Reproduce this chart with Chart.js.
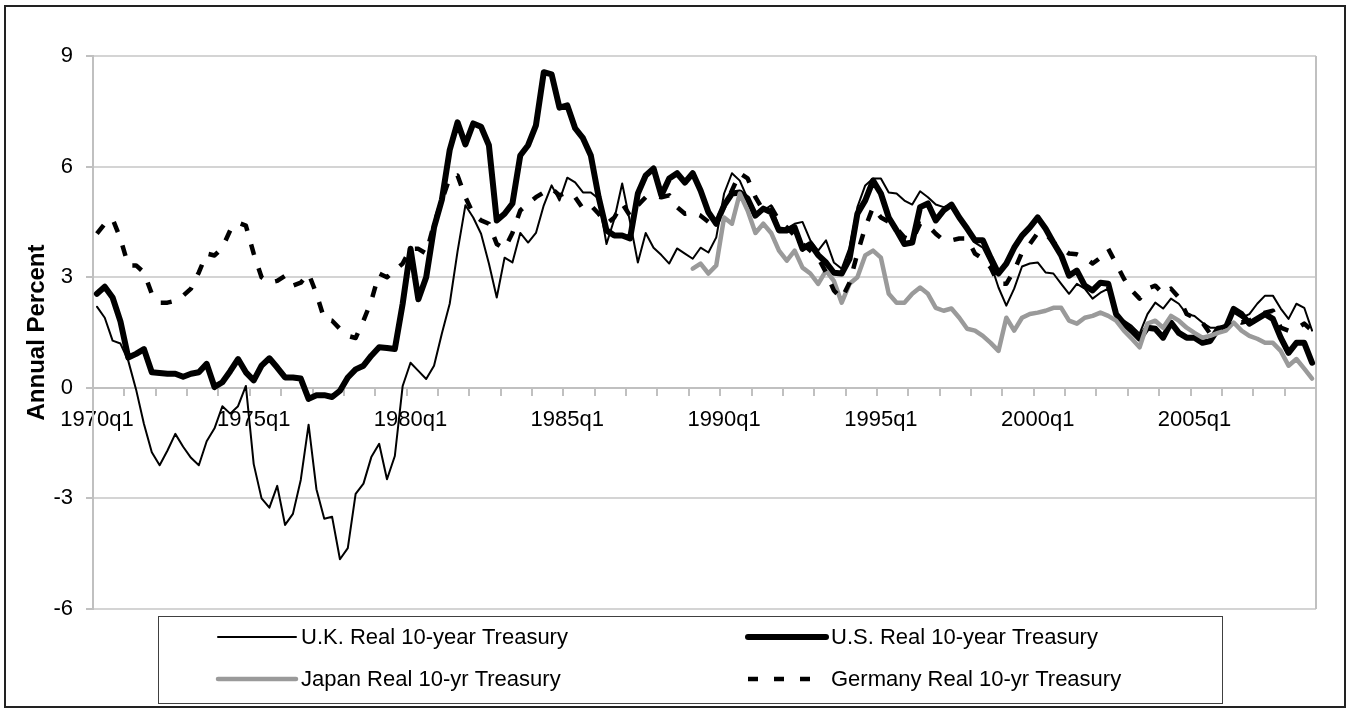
<!DOCTYPE html>
<html>
<head>
<meta charset="utf-8">
<title>Real 10-year Treasury yields</title>
<script src="https://cdn.jsdelivr.net/npm/chart.js@4.4.1/dist/chart.umd.min.js"></script>
<style>
  html, body { margin: 0; padding: 0; background: #fff; }
  #wrap { position: relative; width: 1349px; height: 710px; }
</style>
</head>
<body>
<div id="wrap"><canvas id="real-rates"></canvas></div>
<script>
// quarterly categories 1970q1 .. 2008q4
const firstYear = 1970;
const lastYear = 2008;
const quarters = [];
for (let y = firstYear; y <= lastYear; y++) {
    for (let q = 1; q <= 4; q++) quarters.push(y + 'q' + q);
}
const shownTicks = ['1970q1','1975q1','1980q1','1985q1','1990q1','1995q1','2000q1','2005q1'];
const yTicks = [-6, -3, 0, 3, 6, 9];

// values, one row per year (q1..q4)
const ukReal = [
    2.2, 1.9, 1.28, 1.2,      0.73, -0.05, -0.98, -1.75,
    -2.1, -1.7, -1.25, -1.6,  -1.9, -2.1, -1.45, -1.1,
    -0.5, -0.7, -0.5, 0.05,   -2.07, -3.0, -3.25, -2.66,
    -3.72, -3.42, -2.5, -1.0, -2.75, -3.55, -3.5, -4.65,
    -4.35, -2.88, -2.6, -1.88, -1.52, -2.48, -1.85, 0.05,
    0.68, 0.46, 0.24, 0.6,    1.47, 2.28, 3.7, 4.95,
    4.62, 4.18, 3.37, 2.45,   3.53, 3.4, 4.2, 3.94,
    4.2, 4.95, 5.49, 5.08,    5.7, 5.57, 5.3, 5.3,
    5.13, 3.9, 4.58, 5.54,    4.5, 3.4, 4.2, 3.8,
    3.6, 3.37, 3.78, 3.64,    3.5, 3.8, 3.67, 4.08,
    5.27, 5.82, 5.62, 5.13,   4.72, 4.81, 4.95, 4.35,
    4.32, 4.45, 4.5, 4.0,     3.72, 4.0, 3.4, 3.23,
    3.8, 4.9, 5.49, 5.68,     5.68, 5.3, 5.27, 5.08,
    4.97, 5.33, 5.17, 4.97,   4.9, 4.97, 4.67, 4.27,
    3.94, 3.8, 3.37, 2.72,    2.23, 2.69, 3.29, 3.37,
    3.4, 3.13, 3.1, 2.82,     2.55, 2.82, 2.69, 2.42,
    2.58, 2.69, 2.0, 1.82,    1.68, 1.47, 2.0, 2.31,
    2.15, 2.42, 2.28, 2.0,    1.95, 1.77, 1.63, 1.63,
    1.68, 2.04, 1.9, 2.0,     2.28, 2.5, 2.5, 2.15,
    1.87, 2.28, 2.17, 1.55
];

const usReal = [
    2.55, 2.74, 2.45, 1.8,    0.82, 0.92, 1.05, 0.42,
    0.4, 0.38, 0.38, 0.3,     0.38, 0.42, 0.65, 0.02,
    0.15, 0.45, 0.78, 0.42,   0.2, 0.6, 0.8, 0.55,
    0.28, 0.28, 0.25, -0.3,   -0.2, -0.2, -0.25, -0.08,
    0.28, 0.5, 0.6, 0.87,     1.1, 1.08, 1.05, 2.28,
    3.77, 2.4, 3.0, 4.35,     5.1, 6.45, 7.2, 6.6,
    7.17, 7.08, 6.58, 4.54,   4.72, 5.0, 6.3, 6.58,
    7.12, 8.56, 8.5, 7.6,     7.66, 7.04, 6.77, 6.3,
    5.17, 4.27, 4.13, 4.13,   4.05, 5.27, 5.76, 5.95,
    5.22, 5.68, 5.82, 5.57,   5.82, 5.35, 4.76, 4.45,
    4.95, 5.27, 5.3, 5.13,    4.67, 4.86, 4.76, 4.27,
    4.27, 4.35, 3.77, 3.9,    3.6, 3.4, 3.12, 3.1,
    3.5, 4.72, 5.08, 5.62,    5.27, 4.62, 4.27, 3.9,
    3.94, 4.9, 5.0, 4.54,     4.81, 4.97, 4.62, 4.32,
    4.0, 4.0, 3.53, 3.1,      3.37, 3.8, 4.13, 4.35,
    4.62, 4.32, 3.94, 3.59,   3.04, 3.18, 2.77, 2.64,
    2.85, 2.82, 2.0, 1.74,    1.55, 1.33, 1.63, 1.6,
    1.36, 1.77, 1.49, 1.36,   1.36, 1.22, 1.27, 1.6,
    1.63, 2.14, 2.0, 1.74,    1.87, 2.0, 1.87, 1.36,
    0.95, 1.22, 1.22, 0.68
];

// Japan series starts in 1989q1
const japanStart = '1989q1';
const japanReal = [
    3.23, 3.37, 3.1, 3.32,    4.62, 4.45, 5.27, 4.81,
    4.2, 4.45, 4.2, 3.72,     3.45, 3.72, 3.26, 3.1,
    2.82, 3.18, 2.9, 2.31,    2.82, 3.0, 3.59, 3.72,
    3.53, 2.55, 2.31, 2.31,   2.55, 2.72, 2.55, 2.17,
    2.09, 2.15, 1.9, 1.6,     1.55, 1.41, 1.22, 1.0,
    1.9, 1.55, 1.9, 2.0,      2.04, 2.09, 2.17, 2.17,
    1.82, 1.74, 1.9, 1.95,    2.04, 1.95, 1.82, 1.55,
    1.33, 1.1, 1.74, 1.82,    1.63, 1.95, 1.82, 1.63,
    1.49, 1.36, 1.41, 1.49,   1.55, 1.77, 1.55, 1.41,
    1.33, 1.22, 1.22, 1.0,    0.6, 0.78, 0.52, 0.25
];

const germanyReal = [
    4.18, 4.45, 4.58, 4.05,   3.32, 3.32, 3.13, 2.55,
    2.31, 2.31, 2.36, 2.5,    2.69, 3.13, 3.64, 3.59,
    3.8, 4.27, 4.48, 4.4,     3.64, 3.0, 2.85, 2.9,
    3.04, 2.77, 2.85, 3.1,    2.55, 1.87, 1.82, 1.6,
    1.41, 1.35, 1.82, 2.36,   3.1, 3.0, 3.18, 3.37,
    3.77, 3.77, 3.64, 4.45,   5.08, 5.7, 5.76, 5.17,
    4.72, 4.54, 4.45, 3.9,    3.77, 4.2, 4.81, 5.0,
    5.17, 5.3, 5.41, 5.22,    5.3, 5.17, 4.86, 4.95,
    4.72, 4.45, 4.62, 5.0,    4.67, 4.95, 5.17, 5.22,
    5.17, 5.22, 4.9, 4.72,    4.76, 4.67, 4.5, 4.54,
    4.9, 5.35, 5.82, 5.68,    5.17, 4.81, 4.9, 4.54,
    4.35, 4.13, 3.9, 3.72,    3.53, 3.13, 2.64, 2.42,
    2.85, 3.64, 4.35, 4.9,    4.62, 4.5, 4.32, 4.08,
    4.0, 4.45, 4.4, 4.18,     4.0, 4.0, 4.05, 4.05,
    3.64, 3.5, 3.26, 2.82,    2.82, 3.18, 3.67, 3.9,
    4.2, 4.18, 3.94, 3.8,     3.64, 3.62, 3.53, 3.37,
    3.53, 3.77, 3.37, 2.96,   2.64, 2.42, 2.69, 2.77,
    2.55, 2.69, 2.45, 2.0,    1.9, 1.77, 1.47, 1.6,
    1.68, 1.9, 1.77, 1.82,    1.95, 2.04, 2.09, 1.63,
    1.55, 1.6, 1.74, 1.55
];

const FONT = "'Liberation Sans', Arial, sans-serif";
const AXIS_GRAY = '#c0c0c0';
const GRID_GRAY = '#d4d4d4';

// white page, outer frame and the right edge of the plot box
const framePlugin = {
    id: 'frame',
    beforeDraw(chart){
        const ctx = chart.ctx;
        ctx.save();
        ctx.fillStyle = '#fff';
        ctx.fillRect(0, 0, chart.width, chart.height);
        ctx.restore();
    },
    beforeDatasetsDraw(chart){
        const {ctx, chartArea} = chart;
        ctx.save();
        ctx.strokeStyle = AXIS_GRAY;
        ctx.lineWidth = 2;
        ctx.beginPath();
        ctx.moveTo(chartArea.right, chartArea.top);
        ctx.lineTo(chartArea.right, chartArea.bottom);
        ctx.stroke();
        ctx.restore();
    },
    afterDraw(chart){
        const ctx = chart.ctx;
        ctx.save();
        ctx.strokeStyle = '#222';
        ctx.lineWidth = 2;
        ctx.strokeRect(5, 6, 1340, 701);
        ctx.restore();
    }
};

// boxed two-column legend under the plot
const legendPlugin = {
    id: 'boxLegend',
    afterDraw(chart){
        const ctx = chart.ctx;
        ctx.save();
        ctx.strokeStyle = '#404040';
        ctx.lineWidth = 1;
        ctx.strokeRect(158.5, 616.5, 1064, 87);
        ctx.font = '22px ' + FONT;
        ctx.textBaseline = 'middle';
        ctx.fillStyle = '#000';
        chart.data.datasets.forEach((ds, i) => {
            const x0 = (i % 2) ? 748 : 218;
            const y = Math.floor(i / 2) ? 679 : 637;
            ctx.save();
            ctx.strokeStyle = ds.borderColor;
            ctx.lineWidth = ds.borderWidth;
            ctx.setLineDash(ds.legendDash || []);
            ctx.lineCap = ds.borderDash ? 'butt' : 'round';
            ctx.beginPath();
            ctx.moveTo(x0, y);
            ctx.lineTo(x0 + 78, y);
            ctx.stroke();
            ctx.restore();
            ctx.fillText(ds.label, x0 + 83, y + 1);
        });
        ctx.restore();
    }
};

const japanOffset = quarters.indexOf(japanStart);

new Chart(document.getElementById('real-rates'), {
    type: 'line',
    data: {
        labels: quarters,
        datasets: [
            {
                label: 'U.K. Real 10-year Treasury',
                data: ukReal,
                borderColor: '#000',
                borderWidth: 2,
                order: 4
            },
            {
                label: 'U.S. Real 10-year Treasury',
                data: usReal,
                borderColor: '#000',
                borderWidth: 6,
                order: 3
            },
            {
                label: 'Japan Real 10-yr Treasury',
                data: japanReal.map((v, i) => ({x: quarters[japanOffset + i], y: v})),
                borderColor: '#9a9a9a',
                borderWidth: 4.5,
                order: 2
            },
            {
                label: 'Germany Real 10-yr Treasury',
                data: germanyReal,
                borderColor: '#000',
                borderWidth: 4.5,
                borderDash: [11, 14],
                legendDash: [10, 16],
                borderCapStyle: 'butt',
                order: 1
            }
        ]
    },
    options: {
        responsive: true,
        maintainAspectRatio: false,
        devicePixelRatio: 1,
        animation: false,
        events: [],
        layout: { padding: { top: 56, right: 33, bottom: 101, left: 0 } },
        elements: {
            point: { radius: 0 },
            line: { tension: 0, borderJoinStyle: 'round', borderCapStyle: 'round', fill: false }
        },
        plugins: {
            legend: { display: false },
            tooltip: { enabled: false }
        },
        scales: {
            x: {
                type: 'category',
                position: { y: 0 },
                offset: true,
                grid: {
                    offset: true,
                    drawOnChartArea: false,
                    tickLength: 7,
                    lineWidth: 2,
                    color: ctx => (ctx.index % 4 === 0) ? AXIS_GRAY : 'rgba(0,0,0,0)'
                },
                border: { display: true, color: AXIS_GRAY, width: 2 },
                ticks: {
                    autoSkip: false,
                    maxRotation: 0,
                    minRotation: 0,
                    padding: 12,
                    color: '#000',
                    font: { family: FONT, size: 22 },
                    callback: function(value){
                        const lab = this.getLabelForValue(value);
                        return shownTicks.includes(lab) ? lab : '';
                    }
                }
            },
            y: {
                min: yTicks[0],
                max: yTicks[yTicks.length - 1],
                afterBuildTicks(scale){ scale.ticks = yTicks.map(v => ({value: v})); },
                afterFit(scale){ scale.width = 93; },
                grid: { color: GRID_GRAY, lineWidth: 2, tickLength: 7, tickColor: AXIS_GRAY },
                border: { color: AXIS_GRAY, width: 2 },
                ticks: {
                    padding: 13,
                    color: '#000',
                    font: { family: FONT, size: 22 }
                },
                title: {
                    display: true,
                    text: 'Annual Percent',
                    color: '#000',
                    font: { family: FONT, size: 24, weight: 'bold' },
                    padding: { top: 23, bottom: 0 }
                }
            }
        }
    },
    plugins: [framePlugin, legendPlugin]
});
</script>
</body>
</html>
